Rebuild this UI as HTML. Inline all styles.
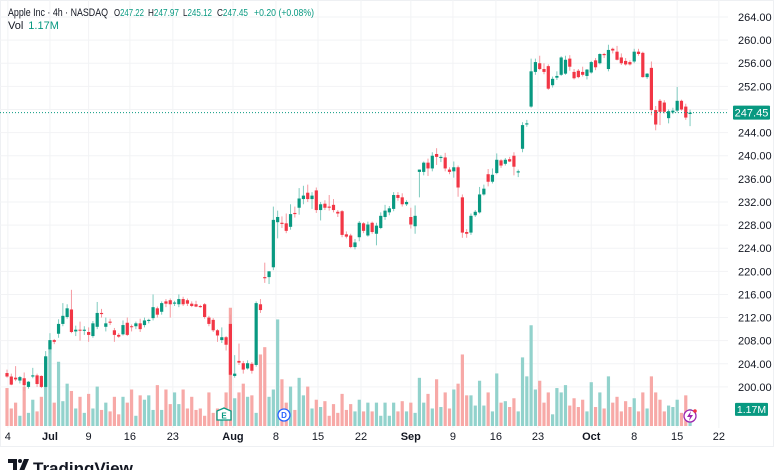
<!DOCTYPE html>
<html><head><meta charset="utf-8">
<style>
html,body{margin:0;padding:0;background:#fff;}
body{width:780px;height:470px;overflow:hidden;position:relative;font-family:"Liberation Sans",sans-serif;}
svg{position:absolute;left:0;top:0;}
text{font-family:"Liberation Sans",sans-serif;}
</style></head>
<body>
<svg id="chart" width="780" height="470" viewBox="0 0 780 470" xmlns="http://www.w3.org/2000/svg">
  <rect x="0.5" y="0.5" width="773" height="446" fill="#fff" stroke="#eef0f3"/>
  <g id="grid"></g>
  <g id="vols"></g>
  <g id="candles"></g>
  <line id="lastline" x1="0" x2="728" stroke="#089981" stroke-width="1" stroke-dasharray="1 2"/>
  <g id="yaxis"></g>
  <g id="xaxis"></g>
  <g font-size="11">
    <text x="8" y="16" fill="#131722" textLength="100" lengthAdjust="spacingAndGlyphs">Apple Inc · 4h · NASDAQ</text>
    <text x="114" y="16" font-size="10.5" textLength="30" lengthAdjust="spacingAndGlyphs"><tspan fill="#131722">O</tspan><tspan fill="#089981">247.22</tspan></text>
    <text x="148" y="16" font-size="10.5" textLength="31" lengthAdjust="spacingAndGlyphs"><tspan fill="#131722">H</tspan><tspan fill="#089981">247.97</tspan></text>
    <text x="183" y="16" font-size="10.5" textLength="29" lengthAdjust="spacingAndGlyphs"><tspan fill="#131722">L</tspan><tspan fill="#089981">245.12</tspan></text>
    <text x="217" y="16" font-size="10.5" textLength="31" lengthAdjust="spacingAndGlyphs"><tspan fill="#131722">C</tspan><tspan fill="#089981">247.45</tspan></text>
    <text x="254" y="16" font-size="10.5" fill="#089981" textLength="60" lengthAdjust="spacingAndGlyphs">+0.20 (+0.08%)</text>
    <text x="8" y="29"><tspan fill="#131722">Vol</tspan><tspan fill="#089981" dx="5">1.17M</tspan></text>
  </g>
  <g>
    <path d="M224 408 L231 411 L231 420 L217 420 L217 411 Z" fill="#fff" stroke="#089981" stroke-width="1.3"/>
    <text x="224" y="418.5" font-size="8" text-anchor="middle" fill="#089981" font-weight="bold">E</text>
  </g>
  <g>
    <circle cx="284" cy="415" r="6" fill="#fff" stroke="#2962ff" stroke-width="1.3"/>
    <text x="284" y="418" font-size="8" text-anchor="middle" fill="#2962ff" font-weight="bold">D</text>
  </g>
  <g>
    <circle cx="690" cy="416" r="6" fill="#fff" stroke="#9c27b0" stroke-width="1.3"/>
    <path d="M691 411 L687 417 L690 417 L689 421 L693 415 L690 415 Z" fill="#9c27b0"/>
    <circle cx="695" cy="411" r="1.8" fill="#f23645"/>
  </g>
  <g>
    <path d="M8 459 h9 v12 h-4 v-8 h-5 z" fill="#131722"/>
    <circle cx="20" cy="461" r="2" fill="#131722"/>
    <path d="M24 459 h5 l-5 12 h-5 z" fill="#131722"/>
    <text x="33" y="474" font-size="17" font-weight="bold" fill="#131722">TradingView</text>
  </g>
</svg>
<script>
const opens=[202.4,201.8,201.6,201.1,201.5,200,201.8,202,201.9,200,206.5,208.1,209.2,210.9,212.1,213.4,209.6,209.9,209.7,209.5,208.8,210.4,212.8,210.4,211.3,209.8,209,209.1,211.1,210.5,210.5,211,210.7,211.4,211.9,213.6,213,214.8,215,214.4,214.3,215.2,215,214.4,214.3,214,214.3,212,211.6,209.8,208.1,208.6,210.9,201.9,204.5,204.1,203.2,204,203.8,214.3,219,219,220.7,228.5,228.4,228.3,227.7,230.1,231,232.5,233.6,232.5,234,230.6,231.7,231.2,231.5,230.3,230.4,226.4,226.2,224.2,225.9,228.3,226.2,228.4,226.5,227.5,229.4,230.2,230.8,233.2,232.8,231.6,229.4,227.8,237.2,237.2,238.8,237.8,240.3,239.6,239.7,237.6,237.3,238,232.8,226.8,226.7,229.7,230.2,233.3,236.8,235.5,237,239.2,238.6,239.4,240,237.1,241.2,245.4,248.5,254.5,256,255,255.5,252.2,253.5,254,254.2,256.8,254.5,254.7,254.5,253.8,254.4,256.5,256,257.6,255,258.5,258,257,256.4,256.2,256.3,258,257.8,253.6,255.2,247.9,249.5,249.2,246.5,247.5,247.8,249.5,248.5,247.22];
const highs=[203,202.3,203.6,201.9,202.5,201,203.3,202.3,202,206.2,209.3,208.3,211.7,214.5,214.3,216.8,210.6,211.3,210.5,210.3,211.4,214.7,213.5,212,211.8,210.2,209.3,211.5,212,210.8,211.3,211.8,212,211.8,216,213.9,214.8,215.2,215.3,214.9,216,215.6,215.3,214.8,214.9,214.2,214.5,212.3,211.9,210,210.3,208.8,212.5,205.5,207.5,204.5,204.6,204.3,214.8,215.2,221.5,220,231.2,230.5,229.5,230,231.6,231.2,234.4,234.8,235,233.7,234.5,232,232.3,233.2,232.5,230.6,230.6,226.9,226.5,225.6,228.7,228.5,228.6,228.6,228.4,230.2,231.5,231.3,233.7,233.7,233.5,232.3,231,231.4,237.6,239,239.5,240.6,241.3,240.1,240.5,238,239,238.3,233.3,227.3,230,230.6,234.6,235,237.7,237.8,240.4,239.4,239.6,239.8,240.6,237.6,245.8,246.2,256.8,256.8,257.3,256,255.8,253.7,254.6,257.2,257.3,257.4,255,255,255.4,255,256.4,256.9,257.7,257.8,259.2,258.7,259,257.7,256.9,256.5,258.5,258.5,258,254.3,256.3,248.6,249.8,249.6,248,248.3,251.9,249.7,249,247.97];
const lows=[201.6,200.3,201,200.6,199.3,199.7,201.5,200,199.8,199.8,205.8,207.4,208.5,210.5,211.8,209.3,208.8,208,209,207.8,208.5,210,212,209.6,210.7,207.8,208.5,208.9,208.8,209.6,210,209.5,210.3,211,211.5,212,212.5,213.8,212,214,213.8,214,214,213.8,213.8,213.7,211.8,210.5,209.5,207.8,207.6,206.3,202,201.6,203.8,202.3,203,202.3,203.5,212.8,218,217.8,220.2,225.7,227.5,226.6,227.2,229.3,229.8,231.6,232,230.8,230.1,228.8,230.6,230.5,230.2,229.4,225.9,225.7,224,223.8,225.2,226.6,226,226.5,224.5,227.3,228.9,229.7,230.4,232.2,231.2,231.3,227.4,226.5,232.8,236.6,236.5,237.3,238.4,238.9,237.3,236.8,236.2,232.9,225.8,225.8,226.3,229.4,230,233.1,234.7,235.2,236.8,237.9,238.3,238.9,236.6,236.3,240.6,245,248.3,254,254.8,254.1,251.4,251.8,253.1,253.8,254,254.7,253.2,253.4,253.7,253.2,254.2,254.8,255.8,256.9,254.6,257.7,256.5,255.7,255.6,255.6,256,257.3,253.5,253.3,247,244.4,245.3,247.3,245.6,247.2,247.5,247.8,246.2,245.12];
const closes=[201.8,200.4,201.3,201.7,200.3,200.9,202,200.5,200,205.3,208.1,207.8,210.9,212.3,213.6,209.5,209.9,209.8,209.9,209,211,212.8,212.6,211,211.1,209,208.7,210.7,209,210.4,211,210,211.5,211.6,213.8,212.5,214.5,214.4,214.3,214.6,215.2,214.3,214.4,214,213.9,213.8,212.1,210.9,209.8,208.9,208.6,207.3,202.1,202.3,204.2,203,204.1,202.8,214.5,213.3,218.8,220,228.9,229.4,228.2,227,229.9,229.9,232.6,233.1,232.5,233.1,230.6,231.6,231,231,230.6,230,226.3,226,224.2,225,228.4,227,228.1,226.8,227.9,229.6,230.5,230.9,233.2,232.7,231.6,232,228.1,229.6,237.6,238.8,237.8,240,239.8,239.8,237.8,237.2,238,234.5,226.7,226.5,229.6,230.3,233.3,234.3,235.5,236.7,239.3,238.3,239.3,239,238.1,237.3,245.3,245.6,254.6,256.2,255,254.5,251.6,253.3,253.8,257,256.6,255.4,253.4,253.6,254,254.9,256.2,255.3,257.6,257.4,258.3,258.2,256.6,256,255.8,255.8,258,257.6,253.6,254.2,247.9,245.4,247.6,247.6,247.7,247.8,249.5,248,246.6,247.45];
const volumes=[2.6,1.2,1.6,0.7,2.7,0.9,1.8,1.0,2.0,4.7,5.8,1.6,4.4,1.7,2.9,2.4,1.2,2.0,0.9,2.2,1.2,2.7,1.1,1.6,1.0,2.0,0.8,2.0,1.6,2.5,0.7,2.1,1.8,2.1,1.1,2.8,1.1,2.5,1.5,2.3,1.5,2.5,1.2,2.0,1.1,1.2,0.7,2.3,0.9,1.2,1.0,2.3,8.1,1.9,2.3,2.9,2.0,2.1,0.9,4.9,5.4,2.0,2.5,7.3,3.2,1.6,2.7,1.1,3.3,2.1,2.7,1.2,1.8,1.3,1.7,0.7,1.5,0.9,2.2,1.1,1.5,1.0,1.8,1.0,1.6,1.0,1.6,0.7,1.6,0.7,1.6,1.0,1.7,1.0,1.6,0.9,3.3,1.6,2.2,1.2,3.2,1.3,2.3,1.2,2.5,2.9,4.9,2.1,2.1,1.4,3.1,1.4,2.3,1.0,3.6,1.6,1.7,1.3,1.9,1.0,4.7,3.4,6.9,2.5,3.1,1.6,2.3,0.8,2.6,2.3,2.8,1.4,1.9,1.3,1.8,1.0,3.0,1.3,2.3,1.2,3.4,1.6,2.0,1.0,1.7,1.3,1.9,1.0,2.3,1.2,3.4,2.3,1.8,1.0,1.4,1.3,1.8,0.9,2.1,1.17];
const priceTicks=[264,260,256,252,244,240,236,232,228,224,220,216,212,208,204,200];
const gridPrices=[264,260,256,252,248,244,240,236,232,228,224,220,216,212,208,204,200];
const timeLabels=["4","Jul","9","16","23","Aug","8","15","22","Sep","9","16","23","Oct","8","15","22"];
const timeBold=[false,true,false,false,false,true,false,false,false,true,false,false,false,true,false,false,false];
const timeIdx=[0.2,10,19,28.6,38.6,52.6,62.6,72.4,82.4,94,103.8,113.8,123.6,136,146,156,165.7];
const lastPrice=247.45, lastVol=1.17;

const NS="http://www.w3.org/2000/svg";
const X0=7, STEP=4.296;
function xAt(i){return X0+i*STEP;}
function yP(p){return 17+(264-p)*5.78;}
function yV(v){return 426-v*14.6;}
function mk(tag,attrs,parent){const e=document.createElementNS(NS,tag);for(const k in attrs)e.setAttribute(k,attrs[k]);parent.appendChild(e);return e;}

const grid=document.getElementById('grid');
gridPrices.forEach(p=>{
  const l=mk('line',{x1:0,x2:728,y1:yP(p),y2:yP(p),stroke:'#f2f3f5','stroke-width':1},grid);
  
  
});
timeIdx.forEach(t=>{
  const l=mk('line',{x1:xAt(t),x2:xAt(t),y1:0,y2:428,stroke:'#f2f3f5','stroke-width':1},grid);
  
  
});

const vg=document.getElementById('vols');
volumes.forEach((v,i)=>{
  const up=closes[i]>=opens[i];
  const r=mk('rect',{x:xAt(i)-1.6,y:yV(v),width:3.2,height:426-yV(v),fill:up?'#92d2cc':'#f7a9a7'},vg);
  
  
});

const cg=document.getElementById('candles');
opens.forEach((o,i)=>{
  const c=closes[i], up=c>=o, col=up?'#089981':'#f23645', x=xAt(i);
  const g=mk('g',{},cg);
  
  
  mk('line',{x1:x,x2:x,y1:yP(highs[i]),y2:yP(lows[i]),stroke:up?'#7fcbbf':'#f59aa1','stroke-width':1},g);
  const top=yP(Math.max(o,c)), bot=yP(Math.min(o,c));
  mk('rect',{x:x-1.6,y:top,width:3.2,height:Math.max(1,bot-top),fill:col},g);
});

const ll=document.getElementById('lastline');
ll.setAttribute('y1',yP(lastPrice));ll.setAttribute('y2',yP(lastPrice));

const ya=document.getElementById('yaxis');
priceTicks.forEach(p=>{
  const t=mk('text',{x:738,y:yP(p)+4,'font-size':11,fill:'#131722'},ya);
  t.textContent=p.toFixed(2);
  
  
});
const tag=mk('g',{},ya);


mk('rect',{x:733,y:yP(lastPrice)-7,width:37,height:14,fill:'#089981',rx:1},tag);
const tt=mk('text',{x:751.5,y:yP(lastPrice)+4,'font-size':11,fill:'#fff','text-anchor':'middle'},tag);
tt.textContent=lastPrice.toFixed(2);
const vtag=mk('g',{},ya);


mk('rect',{x:735,y:yV(lastVol)-6,width:33,height:13,fill:'#089981',rx:1},vtag);
const vt=mk('text',{x:751.5,y:yV(lastVol)+4,'font-size':10.5,fill:'#fff','text-anchor':'middle'},vtag);
vt.textContent=lastVol.toFixed(2)+'M';

const xa=document.getElementById('xaxis');
timeLabels.forEach((s,k)=>{
  const t=mk('text',{x:xAt(timeIdx[k]),y:440,'font-size':11,fill:'#131722','text-anchor':'middle','font-weight':timeBold[k]?'bold':'normal'},xa);
  t.textContent=s;
  
  
});
</script>
</body></html>
